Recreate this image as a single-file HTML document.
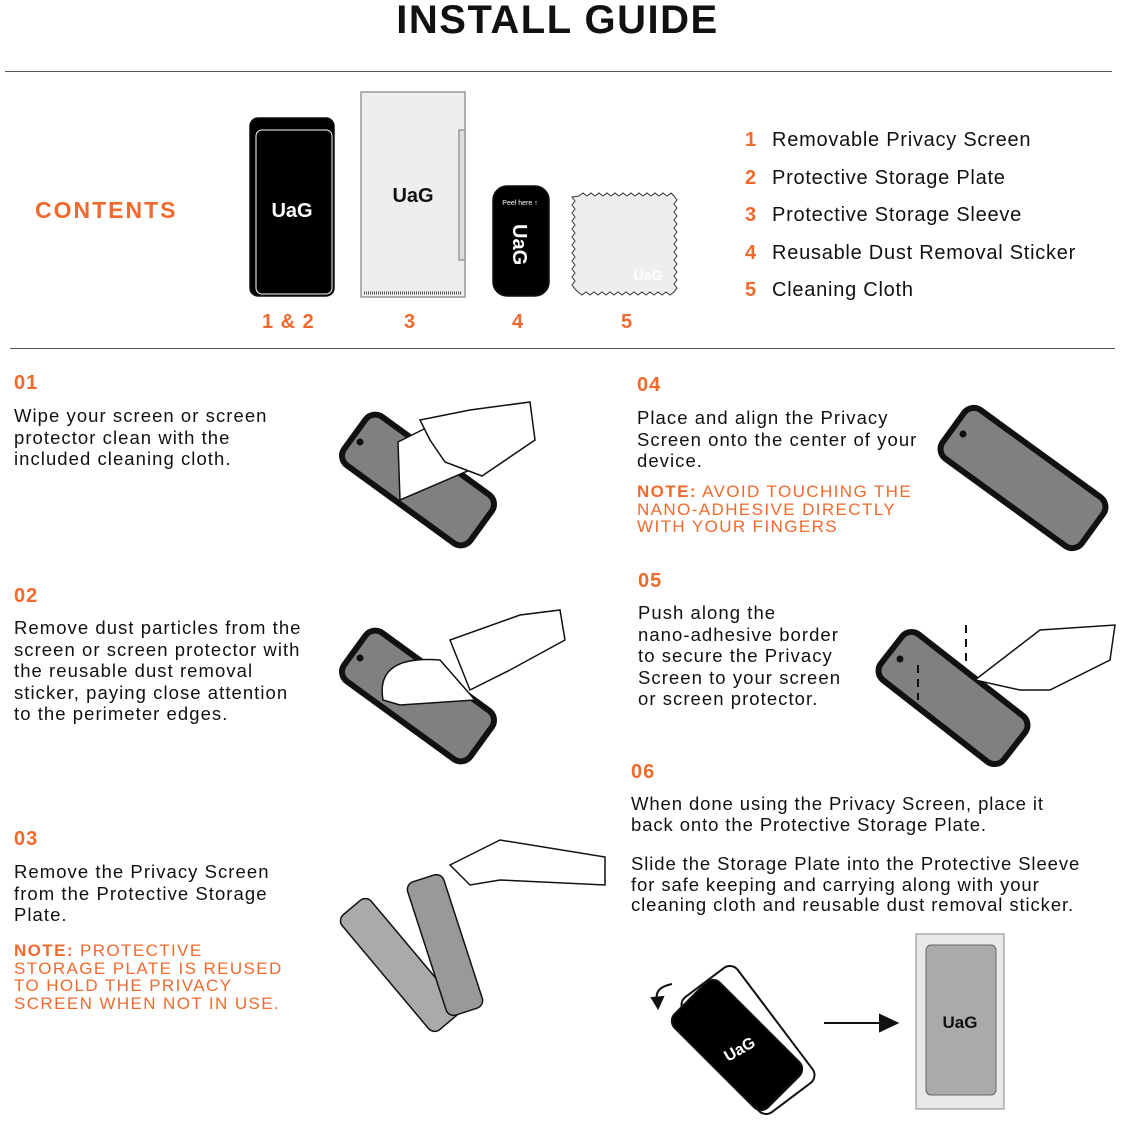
<!DOCTYPE html>
<html><head><meta charset="utf-8"><style>
body{margin:0;width:1122px;height:1122px;background:#fff;position:relative;overflow:hidden;font-family:"Liberation Sans",sans-serif;color:#111}
.a{position:absolute;white-space:nowrap}
.t{font-size:18.5px;line-height:21.5px;letter-spacing:1.05px}
.n{color:#f0692d;font-weight:bold;font-size:20px;letter-spacing:1px}
.o{color:#f0692d;font-size:17px;line-height:17.5px;letter-spacing:1.4px}
.li{font-size:20px;letter-spacing:0.75px}
.li b{color:#f0692d;display:inline-block;width:27px}
</style></head><body>
<div class="a" style="left:0;width:1115px;text-align:center;top:-2px;font-size:40px;font-weight:bold;letter-spacing:1.5px">INSTALL GUIDE</div>
<div class="a" style="left:5px;top:71px;width:1107px;height:1px;background:#555"></div>
<div class="a" style="left:10px;top:348px;width:1105px;height:1px;background:#555"></div>
<div class="a n" style="left:35px;top:197px;font-size:23px;letter-spacing:2px">CONTENTS</div>
<div class="a li" style="left:745px;top:129px"><b>1</b>Removable Privacy Screen</div>
<div class="a li" style="left:745px;top:167px"><b>2</b>Protective Storage Plate</div>
<div class="a li" style="left:745px;top:204px"><b>3</b>Protective Storage Sleeve</div>
<div class="a li" style="left:745px;top:242px"><b>4</b>Reusable Dust Removal Sticker</div>
<div class="a li" style="left:745px;top:279px"><b>5</b>Cleaning Cloth</div>
<div class="a n" style="left:262px;top:311px">1 &amp; 2</div>
<div class="a n" style="left:404px;top:311px">3</div>
<div class="a n" style="left:512px;top:311px">4</div>
<div class="a n" style="left:621px;top:311px">5</div>

<div class="a n" style="left:14px;top:372px">01</div>
<div class="a t" style="left:14px;top:405px">Wipe your screen or screen<br>protector clean with the<br>included cleaning cloth.</div>
<div class="a n" style="left:14px;top:585px">02</div>
<div class="a t" style="left:14px;top:617px">Remove dust particles from the<br>screen or screen protector with<br>the reusable dust removal<br>sticker, paying close attention<br>to the perimeter edges.</div>
<div class="a n" style="left:14px;top:828px">03</div>
<div class="a t" style="left:14px;top:861px">Remove the Privacy Screen<br>from the Protective Storage<br>Plate.</div>
<div class="a o" style="left:14px;top:942px"><b>NOTE:</b> PROTECTIVE<br>STORAGE PLATE IS REUSED<br>TO HOLD THE PRIVACY<br>SCREEN WHEN NOT IN USE.</div>
<div class="a n" style="left:637px;top:374px">04</div>
<div class="a t" style="left:637px;top:407px">Place and align the Privacy<br>Screen onto the center of your<br>device.</div>
<div class="a o" style="left:637px;top:483px"><b>NOTE:</b> AVOID TOUCHING THE<br>NANO-ADHESIVE DIRECTLY<br>WITH YOUR FINGERS</div>
<div class="a n" style="left:638px;top:570px">05</div>
<div class="a t" style="left:638px;top:602px">Push along the<br>nano-adhesive border<br>to secure the Privacy<br>Screen to your screen<br>or screen protector.</div>
<div class="a n" style="left:631px;top:761px">06</div>
<div class="a t" style="left:631px;top:794px;line-height:20.5px;letter-spacing:0.9px">When done using the Privacy Screen, place it<br>back onto the Protective Storage Plate.</div>
<div class="a t" style="left:631px;top:854px;line-height:20.5px;letter-spacing:0.9px">Slide the Storage Plate into the Protective Sleeve<br>for safe keeping and carrying along with your<br>cleaning cloth and reusable dust removal sticker.</div>

<svg class="a" style="left:0;top:0" width="1122" height="1122">
<g stroke="#111" stroke-width="1.5">
<rect x="250" y="118" width="84" height="178" rx="8" fill="#000"/>
<rect x="256" y="130" width="76" height="164" rx="6" fill="#000" stroke="#fff" stroke-width="1"/>
<rect x="361" y="92" width="104" height="205" fill="#eee" stroke="#999"/>
<rect x="459" y="130" width="6" height="130" fill="#ddd" stroke="#999"/>
<line x1="364" y1="293" x2="462" y2="293" stroke="#555" stroke-width="3" stroke-dasharray="1 1"/>
<rect x="493" y="186" width="56" height="110" rx="14" fill="#000"/>
<path d="M579 196 l4 -3 l4 3 l4 -3 l4 3 l4 -3 l4 3 l4 -3 l4 3 l4 -3 l4 3 l4 -3 l4 3 l4 -3 l4 3 l4 -3 l4 3 l4 -3 l4 3 l4 -3 l4 3 l4 -3 l4 3 l4 -3 l3 3 l3 4 l-3 4 l3 4 l-3 4 l3 4 l-3 4 l3 4 l-3 4 l3 4 l-3 4 l3 4 l-3 4 l3 4 l-3 4 l3 4 l-3 4 l3 4 l-3 4 l3 4 l-3 4 l3 4 l-3 4 l3 4 l-3 4 l-4 3 l-4 -3 l-4 3 l-4 -3 l-4 3 l-4 -3 l-4 3 l-4 -3 l-4 3 l-4 -3 l-4 3 l-4 -3 l-4 3 l-4 -3 l-4 3 l-4 -3 l-4 3 l-4 -3 l-4 3 l-4 -3 l-4 3 l-4 -3 l-4 3 l-4 -3 l-3 -3 l-3 -4 l3 -4 l-3 -4 l3 -4 l-3 -4 l3 -4 l-3 -4 l3 -4 l-3 -4 l3 -4 l-3 -4 l3 -4 l-3 -4 l3 -4 l-3 -4 l3 -4 l-3 -4 l3 -4 l-3 -4 l3 -4 l-3 -4 l3 -4 l-3 -4 Z" fill="#eee" stroke="#333" stroke-width="1"/>
</g>
<text x="292" y="217" fill="#fff" font-size="20" font-weight="bold" text-anchor="middle" font-family="Liberation Sans">UaG</text>
<text x="413" y="202" fill="#111" font-size="20" font-weight="bold" text-anchor="middle" font-family="Liberation Sans">UaG</text>
<text x="520" y="205" fill="#fff" font-size="7" text-anchor="middle" font-family="Liberation Sans">Peel here ↑</text>
<text x="0" y="0" fill="#fff" font-size="20" font-weight="bold" font-family="Liberation Sans" transform="translate(513,224) rotate(90)">UaG</text>
<text x="648" y="280" fill="#fff" font-size="14" font-weight="bold" text-anchor="middle" font-family="Liberation Sans">UaG</text>

<g fill="#808080" stroke="#111" stroke-width="6">
<rect x="-78" y="-30" width="156" height="60" rx="12" transform="translate(418,480) rotate(36)"/>
<rect x="-78" y="-30" width="156" height="60" rx="12" transform="translate(418,696) rotate(36)"/>
<rect x="-86" y="-30" width="172" height="60" rx="12" transform="translate(1023,478) rotate(36)"/>
<rect x="-78" y="-29" width="156" height="58" rx="12" transform="translate(953,698) rotate(38)"/>
</g>
<g fill="#111"><circle cx="360" cy="442" r="3.5"/><circle cx="360" cy="658" r="3.5"/><circle cx="963" cy="434" r="3.5"/><circle cx="900" cy="659" r="3.5"/></g>
<g fill="#fff" stroke="#111" stroke-width="1.5">
<path d="M398 442 L432 425 L470 470 L400 500 Z"/>
<path d="M420 420 L470 410 L530 402 L535 440 L482 476 L445 462 L430 440 Z"/>
<path d="M383 700 Q375 655 440 660 L475 700 L400 705 Z"/>
<path d="M450 640 L520 615 L560 610 L565 640 L510 670 L470 690 Z"/>
<path d="M975 680 L1040 630 L1115 625 L1110 660 L1050 690 L1020 690 Z"/>
</g>
<g stroke="#111" stroke-width="2" stroke-dasharray="8 6"><line x1="966" y1="625" x2="966" y2="665"/><line x1="918" y1="665" x2="918" y2="700"/></g>
<g stroke="#111" stroke-width="1.5" fill="#999">
<rect x="-19" y="-75" width="38" height="150" rx="8" fill="#aaa" transform="translate(400,965) rotate(-40)"/>
<rect x="-19" y="-70" width="38" height="140" rx="8" transform="translate(445,945) rotate(-18)"/>
<path d="M450 865 L500 840 L605 857 L605 885 L500 880 L470 885 Z" fill="#fff"/>
</g>
<g stroke="#111" stroke-width="2">
<rect x="-34" y="-72" width="68" height="144" rx="10" fill="#fff" transform="translate(748,1040) rotate(-37)"/>
<rect x="-32" y="-66" width="64" height="132" rx="10" fill="#000" transform="translate(737,1045) rotate(-45)"/>
<path d="M658 1003 Q652 988 672 984" fill="none"/>
<path d="M652 998 L658 1008 L663 997 Z" fill="#111"/>
<line x1="824" y1="1023" x2="885" y2="1023"/>
<path d="M880 1015 L897 1023 L880 1031 Z" fill="#111"/>
<rect x="916" y="934" width="88" height="175" fill="#e8e8e8" stroke="#888" stroke-width="1"/>
<rect x="926" y="945" width="70" height="150" rx="5" fill="#aaa" stroke="#666" stroke-width="1"/>
</g>
<text x="960" y="1028" fill="#111" font-size="17" font-weight="bold" text-anchor="middle" font-family="Liberation Sans">UaG</text>
<text x="0" y="0" fill="#fff" font-size="16" font-weight="bold" font-family="Liberation Sans" transform="translate(728,1062) rotate(-30)">UaG</text>
</svg>
</body></html>
